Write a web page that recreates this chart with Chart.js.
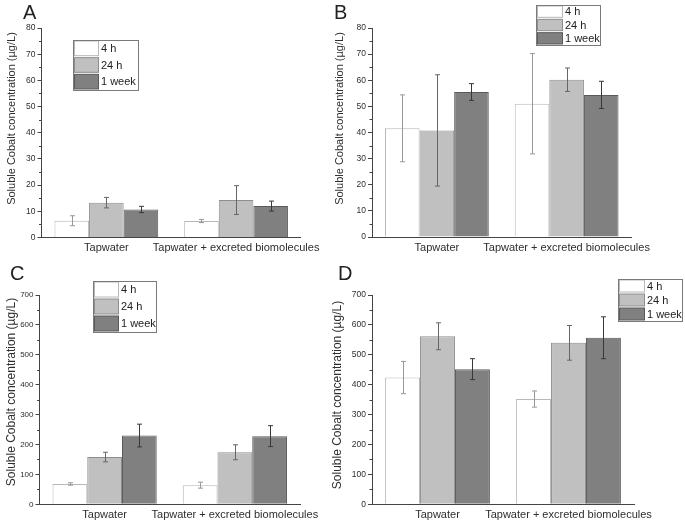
<!DOCTYPE html>
<html>
<head>
<meta charset="utf-8">
<script src="https://cdn.jsdelivr.net/npm/chart.js@4"></script>
<style>
  html, body { margin: 0; padding: 0; background: #ffffff; }
  body { width: 685px; height: 522px; position: relative; overflow: hidden; }
  canvas { position: absolute; }
</style>
</head>
<body>
<canvas id="cA" width="330" height="261" style="left:0px;top:0px"></canvas>
<canvas id="cB" width="355" height="261" style="left:330px;top:0px"></canvas>
<canvas id="cC" width="330" height="261" style="left:0px;top:261px"></canvas>
<canvas id="cD" width="355" height="261" style="left:330px;top:261px"></canvas>
<script>
// ---------------- DATA ----------------
const categories = ["Tapwater", "Tapwater + excreted biomolecules"];
const seriesLabels = ["4 h", "24 h", "1 week"];
const panelLetters = ["A", "B", "C", "D"];
const yAxisTitle = "Soluble Cobalt concentration (\u00b5g/L)";
const yTicksAB = [0, 10, 20, 30, 40, 50, 60, 70, 80];
const yTicksCD = [0, 100, 200, 300, 400, 500, 600, 700];

// Panel A
const a4h = [6.4, 6.3];       const a4hErr = [1.9, 0.6];
const a24h = [13.3, 14.3];    const a24hErr = [2.0, 5.5];
const a1wk = [10.7, 12.0];    const a1wkErr = [1.2, 1.9];
// Panel B
const b4h = [41.6, 51.0];     const b4hErr = [12.8, 19.2];
const b24h = [40.8, 60.2];    const b24hErr = [21.3, 4.5];
const b1wk = [55.5, 54.4];    const b1wkErr = [3.2, 5.2];
// Panel C
const c4h = [68, 64];         const c4hErr = [4, 10];
const c24h = [158, 174];      const c24hErr = [16, 25];
const c1wk = [230, 228];      const c1wkErr = [38, 35];
// Panel D
const d4h = [424, 352];       const d4hErr = [54, 27];
const d24h = [562, 540];      const d24hErr = [45, 58];
const d1wk = [452, 557];      const d1wkErr = [35, 70];

// ---------------- STYLE ----------------
const FONT = "'Liberation Sans', Arial, Helvetica, sans-serif";
const seriesStyle = [
  { bg: "#ffffff", border: "#b8b8b8", err: "#989898" },
  { bg: "#c0c0c0", border: "#8e8e8e", err: "#666666" },
  { bg: "#808080", border: "#5a5a5a", err: "#383838" }
];
const AXIS_COLOR = "#444444";
const TEXT_COLOR = "#2e2e2e";
const Y_W = 30, X_H = 20;

const decoPlugin = {
  id: "deco",
  afterDatasetsDraw(chart, args, o) {
    const ctx = chart.ctx;
    const ys = chart.scales.y;
    chart.data.datasets.forEach((ds, i) => {
      const meta = chart.getDatasetMeta(i);
      ctx.save();
      ctx.strokeStyle = ds.errColor;
      ctx.lineWidth = 1;
      meta.data.forEach((el, j) => {
        const v = ds.data[j], e = ds.errors[j];
        const x = Math.round(el.x) + 0.5;
        const yt = ys.getPixelForValue(v + e);
        const yb = ys.getPixelForValue(v - e);
        ctx.beginPath();
        ctx.moveTo(x, yt); ctx.lineTo(x, yb);
        ctx.moveTo(x - 2.5, yt); ctx.lineTo(x + 2.5, yt);
        ctx.moveTo(x - 2.5, yb); ctx.lineTo(x + 2.5, yb);
        ctx.stroke();
      });
      ctx.restore();
    });
  },
  afterDraw(chart, args, o) {
    const ctx = chart.ctx;
    const ys = chart.scales.y;
    const area = chart.chartArea;
    ctx.save();
    // minor ticks
    ctx.strokeStyle = AXIS_COLOR;
    ctx.lineWidth = 1;
    const t = o.ticks;
    for (let k = 0; k < t.length - 1; k++) {
      const mv = (t[k] + t[k + 1]) / 2;
      const py = Math.round(ys.getPixelForValue(mv)) + 0.5;
      ctx.beginPath();
      ctx.moveTo(area.left - 2.5, py); ctx.lineTo(area.left, py);
      ctx.stroke();
    }
    // panel letter
    ctx.fillStyle = "#222222";
    ctx.font = "20px " + FONT;
    ctx.textBaseline = "top";
    ctx.textAlign = "left";
    ctx.fillText(o.letter, o.letterX, o.letterY);
    // y title
    ctx.save();
    ctx.translate(o.titleX, o.titleY);
    ctx.rotate(-Math.PI / 2);
    ctx.font = o.titleSize + "px " + FONT;
    ctx.fillStyle = TEXT_COLOR;
    ctx.textAlign = "center";
    ctx.textBaseline = "middle";
    ctx.fillText(yAxisTitle, 0, 0);
    ctx.restore();
    // legend
    const L = o.legend;
    const rowH = L.h / chart.data.datasets.length;
    ctx.font = "11px " + FONT;
    ctx.textAlign = "left";
    ctx.textBaseline = "middle";
    chart.data.datasets.forEach((ds, i) => {
      const ry = L.y + i * rowH;
      ctx.fillStyle = ds.backgroundColor;
      ctx.fillRect(L.x + 1.5, ry + 1, L.sw, rowH - 2);
      ctx.strokeStyle = ds.borderColor;
      ctx.lineWidth = 1;
      ctx.strokeRect(L.x + 1.5, ry + 1, L.sw, rowH - 2);
      ctx.fillStyle = "#222222";
      ctx.fillText(ds.label, L.x + L.sw + 4, ry + rowH / 2 + 0.5);
    });
    ctx.strokeStyle = "#7a7a7a";
    ctx.strokeRect(L.x + 0.5, L.y + 0.5, L.w, L.h);
    ctx.restore();
  }
};

function makePanel(id, letter, series, errors, yTicks, geo) {
  const canvas = document.getElementById(id);
  const W = canvas.width, H = canvas.height;
  const datasets = series.map((s, i) => ({
    label: seriesLabels[i],
    data: s,
    errors: errors[i],
    errColor: seriesStyle[i].err,
    backgroundColor: seriesStyle[i].bg,
    borderColor: seriesStyle[i].border,
    borderWidth: 1,
    categoryPercentage: 0.8,
    barPercentage: 1.0
  }));
  new Chart(canvas.getContext("2d"), {
    type: "bar",
    data: { labels: categories, datasets },
    options: {
      responsive: false,
      animation: false,
      layout: {
        padding: {
          left: geo.left - Y_W,
          top: geo.top,
          right: W - geo.right,
          bottom: H - geo.bottom - X_H
        }
      },
      plugins: {
        legend: { display: false },
        tooltip: { enabled: false },
        deco: {
          letter, letterX: geo.letterX, letterY: geo.letterY,
          titleX: geo.titleX, titleY: geo.titleY, titleSize: geo.titleSize,
          legend: geo.legend, ticks: yTicks
        }
      },
      scales: {
        x: {
          grid: { display: false, drawTicks: false },
          border: { display: true, color: AXIS_COLOR, width: 1 },
          ticks: { font: { family: FONT, size: 11 }, color: TEXT_COLOR, padding: 4, maxRotation: 0, autoSkip: false },
          afterFit: s => { s.height = X_H; }
        },
        y: {
          min: yTicks[0],
          max: yTicks[yTicks.length - 1],
          grid: { display: true, drawOnChartArea: false, drawTicks: true, tickLength: 4, color: AXIS_COLOR },
          border: { display: true, color: AXIS_COLOR, width: 1 },
          ticks: { font: { family: FONT, size: geo.tickSize }, color: TEXT_COLOR, padding: 2 },
          afterBuildTicks: s => { s.ticks = yTicks.map(v => ({ value: v })); },
          afterFit: s => { s.width = Y_W; }
        }
      }
    },
    plugins: [decoPlugin]
  });
}

makePanel("cA", panelLetters[0], [a4h, a24h, a1wk], [a4hErr, a24hErr, a1wkErr], yTicksAB, {
  left: 41.5, right: 303.5, top: 28, bottom: 237.5, tickSize: 8.5,
  letterX: 23, letterY: 3, titleX: 12, titleY: 118.5, titleSize: 11,
  legend: { x: 73, y: 40, w: 65, h: 50, sw: 24 }
});
makePanel("cB", panelLetters[1], [b4h, b24h, b1wk], [b4hErr, b24hErr, b1wkErr], yTicksAB, {
  left: 42, right: 301.5, top: 28, bottom: 237, tickSize: 8.5,
  letterX: 4, letterY: 3, titleX: 10, titleY: 118.5, titleSize: 11,
  legend: { x: 206, y: 5, w: 64, h: 40, sw: 25 }
});
makePanel("cC", panelLetters[2], [c4h, c24h, c1wk], [c4hErr, c24hErr, c1wkErr], yTicksCD, {
  left: 39.5, right: 300, top: 34, bottom: 243.3, tickSize: 8,
  letterX: 10, letterY: 3, titleX: 12, titleY: 131, titleSize: 12,
  legend: { x: 93, y: 20, w: 63, h: 51, sw: 24 }
});
makePanel("cD", panelLetters[3], [d4h, d24h, d1wk], [d4hErr, d24hErr, d1wkErr], yTicksCD, {
  left: 42, right: 304, top: 34, bottom: 243.3, tickSize: 8.5,
  letterX: 8, letterY: 3, titleX: 8, titleY: 134, titleSize: 12,
  legend: { x: 288, y: 18, w: 64, h: 42, sw: 25 }
});
</script>
</body>
</html>
